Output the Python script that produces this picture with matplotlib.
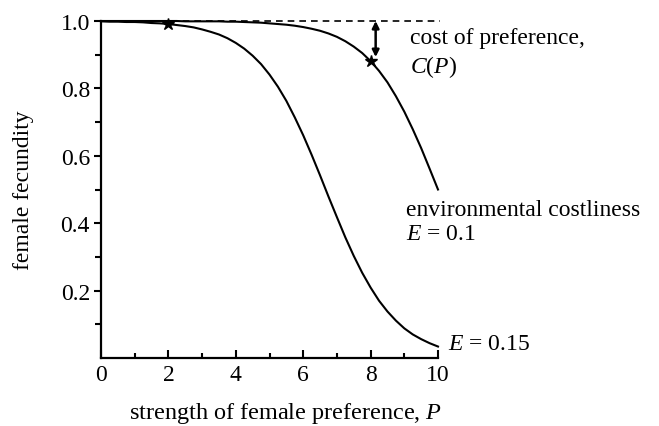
import matplotlib
matplotlib.use("Agg")
import matplotlib.pyplot as plt
from matplotlib.ticker import MultipleLocator, FixedLocator

plt.rcParams['font.family'] = ['Liberation Serif', 'DejaVu Serif']
plt.rcParams['mathtext.fontset'] = 'custom'
plt.rcParams['mathtext.it'] = 'Liberation Serif:italic'
plt.rcParams['mathtext.rm'] = 'Liberation Serif'

# strength of female preference P (read points)
P_values = [0, 0.25, 0.5, 0.75, 1, 1.25, 1.5, 1.75, 2, 2.25, 2.5, 2.75, 3, 3.25, 3.5, 3.75,
            4, 4.25, 4.5, 4.75, 5, 5.25, 5.5, 5.75, 6, 6.25, 6.5, 6.75, 7, 7.25, 7.5, 7.75,
            8, 8.25, 8.5, 8.75, 9, 9.25, 9.5, 9.75, 10]

# female fecundity, environmental costliness E = 0.15
fecundity_E015 = [0.999, 0.998, 0.998, 0.997, 0.997, 0.996, 0.994, 0.993, 0.991, 0.988,
                  0.985, 0.981, 0.975, 0.968, 0.960, 0.949, 0.935, 0.918, 0.897, 0.872,
                  0.841, 0.805, 0.763, 0.714, 0.661, 0.603, 0.542, 0.479, 0.418, 0.358,
                  0.303, 0.253, 0.209, 0.170, 0.138, 0.111, 0.088, 0.070, 0.056, 0.044,
                  0.034]

# female fecundity, environmental costliness E = 0.1
fecundity_E010 = [1.000, 1.000, 1.000, 1.000, 1.000, 1.000, 1.000, 1.000, 1.000, 1.000,
                  0.999, 0.999, 0.999, 0.999, 0.999, 0.998, 0.998, 0.997, 0.996, 0.995,
                  0.993, 0.991, 0.989, 0.986, 0.982, 0.977, 0.971, 0.963, 0.953, 0.940,
                  0.924, 0.905, 0.881, 0.852, 0.818, 0.777, 0.731, 0.679, 0.623, 0.562,
                  0.500]

# highlighted points
marker_P = [2, 8]
marker_fec = [0.991, 0.881]

x_ticks = [0, 2, 4, 6, 8, 10]
y_ticks = [0.2, 0.4, 0.6, 0.8, 1.0]
y_ticklabels = ['0.2', '0.4', '0.6', '0.8', '1.0']

FS = 17

fig = plt.figure(figsize=(6.59, 4.27), dpi=100)
ax = fig.add_axes([101/659, 1-359/427, 337/659, 337/427])

ax.plot([0, 10.05], [1.0, 1.0], color='black', lw=1.2, ls=(0, (4, 3)), clip_on=False, zorder=2)
ax.plot(P_values, fecundity_E015, color='black', lw=1.5, clip_on=False, zorder=3)
ax.plot(P_values, fecundity_E010, color='black', lw=1.5, clip_on=False, zorder=3)
ax.plot(marker_P, marker_fec, ls='none', marker='*', ms=9, color='black', clip_on=False, zorder=4)

ax.annotate('', xy=(8.15, 1.0), xytext=(8.15, 0.893),
            arrowprops=dict(arrowstyle='<|-|>', color='black', lw=1.8,
                            mutation_scale=10, shrinkA=0, shrinkB=0),
            annotation_clip=False)

ax.set_xlim(0, 10)
ax.set_ylim(0, 1.0)
ax.spines['top'].set_visible(False)
ax.spines['right'].set_visible(False)
ax.spines['left'].set_linewidth(1.6)
ax.spines['bottom'].set_linewidth(1.6)

ax.xaxis.set_major_locator(FixedLocator(x_ticks))
ax.xaxis.set_minor_locator(MultipleLocator(1))
ax.yaxis.set_major_locator(FixedLocator(y_ticks))
ax.set_yticklabels(y_ticklabels)
ax.yaxis.set_minor_locator(FixedLocator([0.1, 0.3, 0.5, 0.7, 0.9]))

ax.tick_params(axis='x', which='major', direction='in', length=6, width=1.5, labelsize=FS, pad=4)
ax.tick_params(axis='x', which='minor', direction='in', length=3.5, width=1.5)
ax.tick_params(axis='y', which='major', direction='out', length=5, width=1.5, labelsize=FS, pad=3)
ax.tick_params(axis='y', which='minor', direction='out', length=4, width=1.5)

ax.set_xlabel('strength of female preference, $P$', fontsize=17.5)
ax.xaxis.set_label_coords(0.548, -0.161)
ax.xaxis.label.set_verticalalignment('center')
ax.set_ylabel('female fecundity', fontsize=FS)
ax.yaxis.set_label_coords(-0.231, 0.5)
ax.yaxis.label.set_verticalalignment('center')

ax.text(9.18, 0.952, 'cost of preference,', fontsize=FS, ha='left', va='center')
ax.text(9.18, 0.866, '$C$($P$)', fontsize=FS, ha='left', va='center')
ax.text(9.06, 0.442, 'environmental costliness', fontsize=FS, ha='left', va='center')
ax.text(9.06, 0.368, '$E$ = 0.1', fontsize=FS, ha='left', va='center')
ax.text(10.3, 0.042, '$E$ = 0.15', fontsize=FS, ha='left', va='center')

fig.savefig('out.png', dpi=100)
